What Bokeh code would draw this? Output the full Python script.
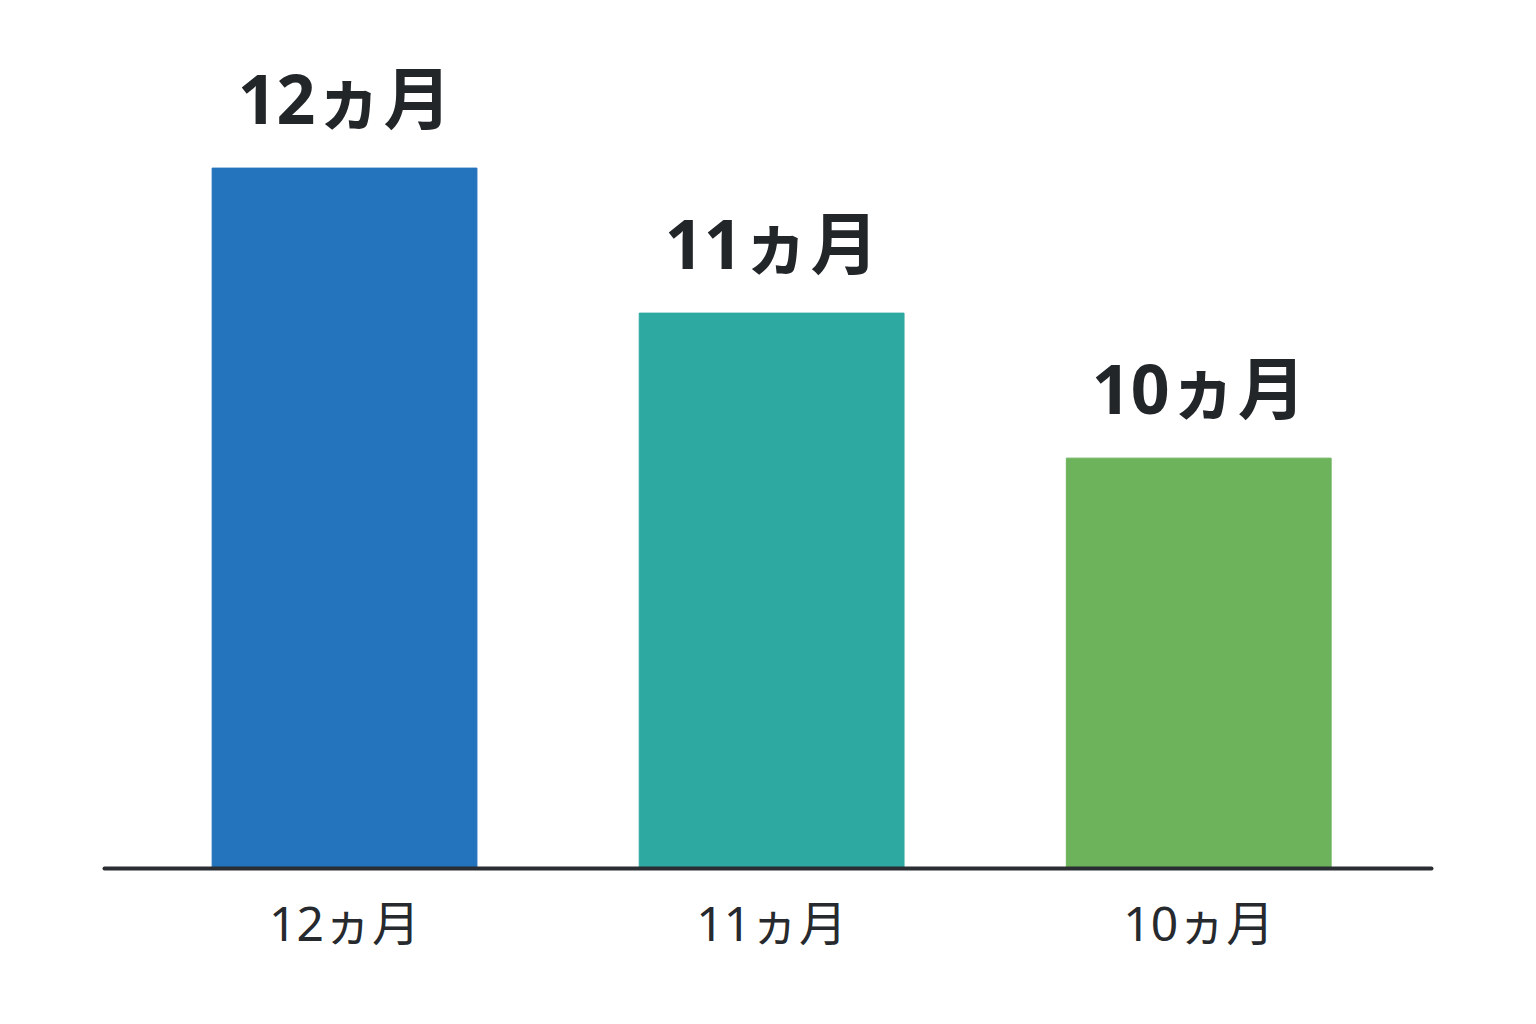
from bokeh.plotting import figure
from bokeh.models import ColumnDataSource, FixedTicker, Range1d
from bokeh.core.properties import value
from bokeh.embed import file_html
from bokeh.resources import INLINE

# ---- data ----
categories = ["12ヵ月", "11ヵ月", "10ヵ月"]
months = [12, 11, 10]
value_labels = ["12ヵ月", "11ヵ月", "10ヵ月"]
colors = ["#2373BD", "#2DA9A1", "#6CB35B"]

xs = list(range(len(categories)))
src = ColumnDataSource(dict(x=xs, top=months, label=value_labels, color=colors))

Y0 = 7.17
p = figure(width=1520, height=1000, output_backend="svg", toolbar_location=None,
           x_range=Range1d(-0.562, 2.545), y_range=Range1d(Y0, 12.88),
           min_border_left=104, min_border_right=89, min_border_top=40,
           min_border_bottom=132)
p.outline_line_color = None
p.background_fill_color = "white"
p.border_fill_color = "white"
p.grid.grid_line_color = None
p.yaxis.visible = False

p.vbar(x="x", top="top", bottom=Y0, width=0.62, color="color", source=src)

p.text(x="x", y="top", text="label", source=src, text_align="center",
       text_baseline="bottom", y_offset=-24,
       text_font=value("Noto Sans, Noto Sans CJK JP"), text_font_style="bold",
       text_font_size="68px", text_color="#222629")

ax = p.xaxis[0]
ax.ticker = FixedTicker(ticks=xs)
ax.major_label_overrides = {i: c for i, c in zip(xs, categories)}
ax.major_tick_line_color = None
ax.minor_tick_line_color = None
ax.axis_line_color = "#2a2d31"
ax.axis_line_width = 4
ax.axis_line_cap = "round"
ax.major_label_standoff = 15
ax.major_label_text_font = "Noto Sans, Noto Sans CJK JP"
ax.major_label_text_font_size = "48px"
ax.major_label_text_font_style = "normal"
ax.major_label_text_color = "#26292d"

open("out.html", "w").write(file_html(p, INLINE))
